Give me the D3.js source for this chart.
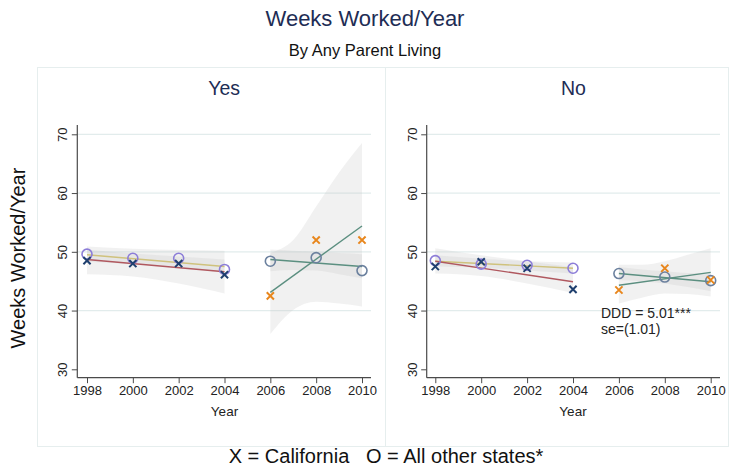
<!DOCTYPE html>
<html>
<head>
<meta charset="utf-8">
<script src="https://cdn.jsdelivr.net/npm/d3@7/dist/d3.min.js"></script>
<style>
  html, body { margin: 0; padding: 0; background: #fff; }
  svg { display: block; font-family: "Liberation Sans", Arial, sans-serif; }
</style>
</head>
<body>
<svg id="chart" width="729" height="466"></svg>
<script>
// ---- data ----
const years = [1998, 2000, 2002, 2004, 2006, 2008, 2010];
const preYears = [1998, 2000, 2002, 2004];
const postYears = [2006, 2008, 2010];
const preBandYears = [1998, 2000, 2002, 2004];
const postBandYears = [2006, 2007, 2008, 2009, 2010];
const yTicks = [30, 40, 50, 60, 70];
const panelNames = ["Yes", "No"];

// Panel "Yes": mean weeks worked (X = California, O = all other states)
const yesCaPre = [48.5, 48.0, 48.0, 46.1];
const yesOtherPre = [49.6, 48.9, 48.9, 47.0];
const yesCaPost = [42.5, 52.0, 52.0];
const yesOtherPost = [48.4, 49.0, 46.8];
// linear fits (values at first and last year of each period)
const yesFitCaPre = [48.7, 46.6];
const yesFitOtherPre = [49.5, 47.5];
const yesFitCaPost = [43.1, 54.4];
const yesFitOtherPost = [48.7, 47.5];
// confidence bands
const yesBandCaPreLo = [46.2, 45.8, 44.6, 42.9];
const yesBandCaPreHi = [50.9, 50.5, 50.3, 50.2];
const yesBandOtherPreLo = [48.3, 47.9, 47.4, 46.4];
const yesBandOtherPreHi = [50.4, 49.7, 49.2, 48.7];
const yesBandCaPostLo = [36.0, 40.1, 41.5, 41.2, 40.7];
const yesBandCaPostHi = [49.8, 52.0, 57.7, 63.5, 68.5];
const yesBandOtherPostLo = [46.7, 46.9, 46.8, 46.2, 45.5];
const yesBandOtherPostHi = [50.4, 50.2, 50.0, 49.8, 49.6];

// Panel "No"
const noCaPre = [47.5, 48.3, 47.2, 43.6];
const noOtherPre = [48.5, 47.9, 47.7, 47.2];
const noCaPost = [43.5, 47.2, 45.2];
const noOtherPost = [46.3, 45.7, 45.1];
const noFitCaPre = [48.4, 44.9];
const noFitOtherPre = [48.4, 47.2];
const noFitCaPost = [44.3, 46.5];
const noFitOtherPost = [46.3, 44.9];
const noBandCaPreLo = [46.3, 45.9, 44.6, 43.0];
const noBandCaPreHi = [50.6, 49.4, 48.4, 47.4];
const noBandOtherPreLo = [47.5, 47.3, 46.8, 46.3];
const noBandOtherPreHi = [49.4, 48.8, 48.4, 48.2];
const noBandCaPostLo = [41.2, 42.2, 42.9, 42.8, 42.4];
const noBandCaPostHi = [47.8, 47.8, 48.4, 49.5, 50.6];
const noBandOtherPostLo = [45.2, 45.0, 44.6, 44.0, 43.3];
const noBandOtherPostHi = [47.4, 47.0, 46.7, 46.4, 46.4];

const dddText = "DDD = 5.01***";
const seText = "se=(1.01)";

// ---- styling ----
const C = {
  title: "#1e2d55",
  text: "#222",
  axis: "#4a4a4a",
  grid: "#e2ecec",
  frame: "#e6eeee",
  band: "#c4c4c4",
  caPre: "#1f3f6e",
  otherPre: "#8c7dd8",
  caPost: "#e8861c",
  otherPost: "#6b809e",
  fitCaPre: "#b0585f",
  fitOtherPre: "#cfc27d",
  fitPost: "#5b8f80"
};

const svg = d3.select("#chart");

svg.append("text").attr("x", 365).attr("y", 26).attr("text-anchor", "middle")
  .attr("font-size", 22).attr("fill", C.title).text("Weeks Worked/Year");
svg.append("text").attr("x", 365).attr("y", 56).attr("text-anchor", "middle")
  .attr("font-size", 16.5).attr("fill", "#111").text("By Any Parent Living");

// panel frames
svg.append("rect").attr("x", 37.5).attr("y", 67.5).attr("width", 348).attr("height", 379)
  .attr("fill", "none").attr("stroke", C.frame);
svg.append("rect").attr("x", 385.5).attr("y", 67.5).attr("width", 343).attr("height", 379)
  .attr("fill", "none").attr("stroke", C.frame);

svg.append("text").attr("transform", "translate(25,258) rotate(-90)")
  .attr("text-anchor", "middle").attr("font-size", 20).attr("fill", "#111")
  .text("Weeks Worked/Year");

svg.append("text").attr("x", 386).attr("y", 463).attr("text-anchor", "middle")
  .attr("font-size", 20).attr("fill", "#111").attr("xml:space", "preserve")
  .text("X = California   O = All other states*");

const panels = [
  {
    name: panelNames[0], axisX: 77.3, x0: 87, x1: 362, axisEnd: 371,
    caPre: yesCaPre, otherPre: yesOtherPre, caPost: yesCaPost, otherPost: yesOtherPost,
    fitCaPre: yesFitCaPre, fitOtherPre: yesFitOtherPre, fitCaPost: yesFitCaPost, fitOtherPost: yesFitOtherPost,
    bands: [
      [preBandYears, yesBandCaPreLo, yesBandCaPreHi],
      [preBandYears, yesBandOtherPreLo, yesBandOtherPreHi],
      [postBandYears, yesBandCaPostLo, yesBandCaPostHi],
      [postBandYears, yesBandOtherPostLo, yesBandOtherPostHi]
    ]
  },
  {
    name: panelNames[1], axisX: 426.7, x0: 435.3, x1: 710.7, axisEnd: 720,
    caPre: noCaPre, otherPre: noOtherPre, caPost: noCaPost, otherPost: noOtherPost,
    fitCaPre: noFitCaPre, fitOtherPre: noFitOtherPre, fitCaPost: noFitCaPost, fitOtherPost: noFitOtherPost,
    bands: [
      [preBandYears, noBandCaPreLo, noBandCaPreHi],
      [preBandYears, noBandOtherPreLo, noBandOtherPreHi],
      [postBandYears, noBandCaPostLo, noBandCaPostHi],
      [postBandYears, noBandOtherPostLo, noBandOtherPostHi]
    ],
    note: true
  }
];

const y = d3.scaleLinear().domain([30, 70]).range([369.3, 134.3]);
const axisTop = 125, axisBottom = 377.7;

function drawPanel(p) {
  const x = d3.scaleLinear().domain([1998, 2010]).range([p.x0, p.x1]);
  const g = svg.append("g");

  // panel header
  g.append("text").attr("x", (p.axisX + p.axisEnd) / 2).attr("y", 95)
    .attr("text-anchor", "middle").attr("font-size", 19.5).attr("fill", C.title).text(p.name);

  // grid lines
  g.selectAll("line.grid").data(yTicks.filter(d => d > 30)).join("line")
    .attr("x1", p.axisX).attr("x2", p.axisEnd)
    .attr("y1", d => y(d)).attr("y2", d => y(d))
    .attr("stroke", C.grid).attr("stroke-width", 1.2);

  // confidence bands
  const area = d3.area().x(d => x(d[0])).y0(d => y(d[1])).y1(d => y(d[2]))
    .curve(d3.curveMonotoneX);
  p.bands.forEach(([yrs, lo, hi]) => {
    g.append("path").datum(yrs.map((yr, i) => [yr, lo[i], hi[i]]))
      .attr("d", area).attr("fill", C.band).attr("fill-opacity", 0.24);
  });

  // fitted lines
  const line = d3.line().x(d => x(d[0])).y(d => y(d[1]));
  const fits = [
    [[preYears[0], preYears[preYears.length - 1]], p.fitOtherPre, C.fitOtherPre],
    [[preYears[0], preYears[preYears.length - 1]], p.fitCaPre, C.fitCaPre],
    [[postYears[0], postYears[postYears.length - 1]], p.fitOtherPost, C.fitPost],
    [[postYears[0], postYears[postYears.length - 1]], p.fitCaPost, C.fitPost]
  ];
  fits.forEach(([yrs, vals, col]) => {
    g.append("path").datum(yrs.map((yr, i) => [yr, vals[i]]))
      .attr("d", line).attr("fill", "none").attr("stroke", col).attr("stroke-width", 1.4);
  });

  // circle markers: all other states
  const circles = [[preYears, p.otherPre, C.otherPre], [postYears, p.otherPost, C.otherPost]];
  circles.forEach(([yrs, vals, col]) => {
    g.selectAll(null).data(yrs.map((yr, i) => [yr, vals[i]])).join("circle")
      .attr("cx", d => x(d[0])).attr("cy", d => y(d[1])).attr("r", 5)
      .attr("fill", "none").attr("stroke", col).attr("stroke-width", 1.6);
  });

  // X markers: California
  const crosses = [[preYears, p.caPre, C.caPre], [postYears, p.caPost, C.caPost]];
  const s = 3.6;
  crosses.forEach(([yrs, vals, col]) => {
    g.selectAll(null).data(yrs.map((yr, i) => [yr, vals[i]])).join("path")
      .attr("d", d => {
        const cx = x(d[0]), cy = y(d[1]);
        return `M${cx - s},${cy - s}L${cx + s},${cy + s}M${cx - s},${cy + s}L${cx + s},${cy - s}`;
      })
      .attr("stroke", col).attr("stroke-width", 2).attr("fill", "none");
  });

  // y axis
  const ya = g.append("g").attr("transform", `translate(${p.axisX},0)`)
    .call(d3.axisLeft(y).tickValues(yTicks).tickSize(5.5).tickSizeOuter(0));
  ya.select(".domain").remove();
  ya.selectAll(".tick line").attr("stroke", C.axis);
  ya.selectAll(".tick text").attr("transform", "rotate(-90)")
    .attr("x", 0).attr("y", -10).attr("dy", 0).attr("text-anchor", "middle")
    .attr("font-size", 13).attr("font-family", "Liberation Sans, Arial, sans-serif").attr("fill", C.text);
  g.append("line").attr("x1", p.axisX).attr("x2", p.axisX).attr("y1", axisTop).attr("y2", axisBottom)
    .attr("stroke", C.axis).attr("stroke-width", 1.2);

  // x axis
  const xa = g.append("g").attr("transform", `translate(0,${axisBottom})`)
    .call(d3.axisBottom(x).tickValues(years).tickFormat(d3.format("d")).tickSize(5.5).tickSizeOuter(0));
  xa.select(".domain").remove();
  xa.selectAll(".tick line").attr("stroke", C.axis);
  xa.selectAll(".tick text").attr("y", 8).attr("dy", "0.71em")
    .attr("font-size", 13).attr("font-family", "Liberation Sans, Arial, sans-serif").attr("fill", C.text);
  g.append("line").attr("x1", p.axisX).attr("x2", p.axisEnd).attr("y1", axisBottom).attr("y2", axisBottom)
    .attr("stroke", C.axis).attr("stroke-width", 1.2);
  g.append("text").attr("x", (p.x0 + p.x1) / 2).attr("y", 416).attr("text-anchor", "middle")
    .attr("font-size", 13.5).attr("fill", C.text).text("Year");

  if (p.note) {
    g.append("text").attr("x", 601).attr("y", 318).attr("font-size", 14).attr("fill", C.text).text(dddText);
    g.append("text").attr("x", 601).attr("y", 333.5).attr("font-size", 14).attr("fill", C.text).text(seText);
  }
}

panels.forEach(drawPanel);
</script>
</body>
</html>
